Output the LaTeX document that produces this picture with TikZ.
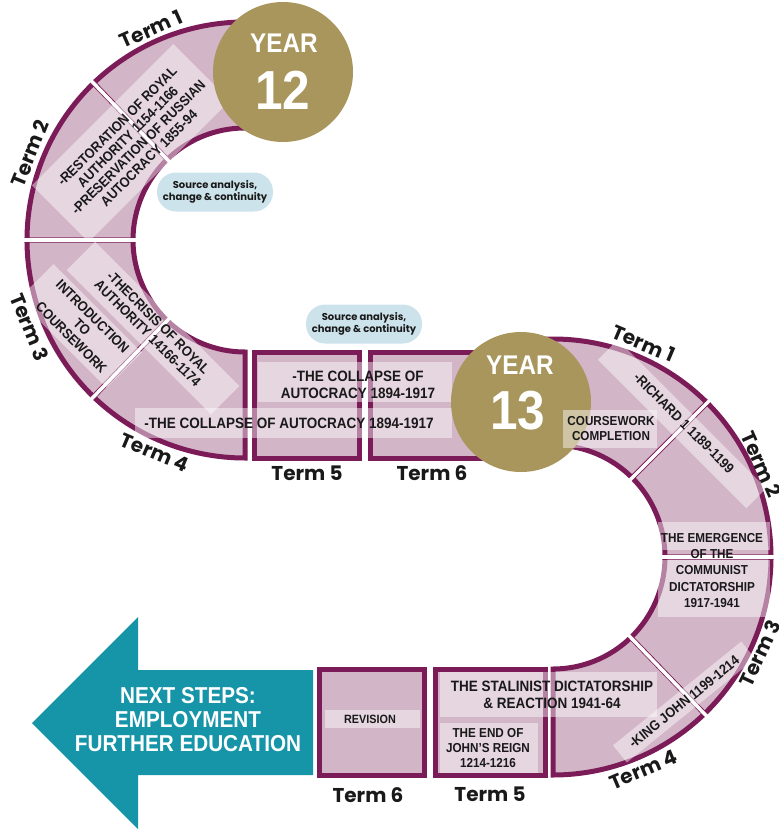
\documentclass[tikz,border=0pt]{standalone}
\usepackage{fontspec}
\setmainfont{Liberation Sans}
\newfontfamily\termfont{Poppins}
\newfontfamily\boxfont{Liberation Sans}[FakeStretch=0.9]
\usetikzlibrary{calc}
\definecolor{plum}{RGB}{123,28,88}
\definecolor{segfill}{RGB}{211,181,200}
\definecolor{gold}{RGB}{168,150,92}
\definecolor{arrowteal}{RGB}{22,148,168}
\definecolor{bubblecol}{RGB}{205,227,236}
\definecolor{ink}{RGB}{25,25,25}
\newcommand{\ringseg}[3]{%
  \draw[seg] ($(#1)+(#2:112)$) arc[start angle=#2, end angle=#3, radius=112]
    -- ($(#1)+(#3:218)$) arc[start angle=#3, end angle=#2, radius=218] -- cycle;}
\newcommand{\ringgap}[2]{%
  \draw[gapline] ($(#1)+(#2:104)$) -- ($(#1)+(#2:226)$);}
\begin{document}
\begin{tikzpicture}[x=1pt,y=-1pt,
  seg/.style={draw=plum, line width=5pt, fill=segfill, line join=miter},
  gapline/.style={draw=white, line width=3.5pt},
  ov/.style={fill=white, fill opacity=0.45, draw=none, inner sep=0pt},
  txt/.style={text=ink, align=center, inner sep=0pt, font=\boxfont\bfseries\fontsize{13}{15}\selectfont},
  term/.style={text=ink, inner sep=0pt, font=\termfont\bfseries\fontsize{20}{20}\selectfont},
  yr/.style={text=white, inner sep=0pt, font=\boxfont\bfseries\fontsize{27}{27}\selectfont},
  yrnum/.style={text=white, inner sep=0pt, font=\boxfont\bfseries\fontsize{55}{55}\selectfont},
  bubble/.style={fill=bubblecol, rounded corners=19pt, minimum width=116, minimum height=39, inner sep=0pt, align=center, text=ink, font=\termfont\bfseries\fontsize{10}{12}\selectfont},
  yearcirc/.style={circle, fill=gold, minimum size=140, inner sep=0pt}
]
\useasboundingbox (0,0) rectangle (779,830);
\coordinate (c12) at (245,240);
\coordinate (c13) at (553,557);
% ---- Year 12 ring
\ringseg{c12}{-80}{-134}
\ringseg{c12}{-134}{-180}
\ringseg{c12}{-180}{-226}
\ringseg{c12}{-226}{-270}
\ringgap{c12}{-134}
\ringgap{c12}{-180}
\ringgap{c12}{-226}
\draw[seg] (254.5,352) rectangle (359.5,458);
\draw[seg] (370.5,352) rectangle (490,458);
% ---- Year 13 ring
\ringseg{c13}{-100}{-45}
\ringseg{c13}{-45}{0}
\ringseg{c13}{0}{46}
\ringseg{c13}{46}{90}
\ringgap{c13}{-45}
\ringgap{c13}{0}
\ringgap{c13}{46}
\draw[seg] (435.5,669) rectangle (545.5,775);
\draw[seg] (319.5,669) rectangle (424.5,775);
% ---- overlays under the circles
\node[ov, rotate=45, minimum width=200, minimum height=80] (ovA) at (131,143) {};
\node[ov, rotate=-45, minimum width=204, minimum height=40] (ovB) at (153,328) {};
\node[ov, rotate=-45, minimum width=125, minimum height=50] (ovC) at (80,326) {};
\node[ov, minimum width=194, minimum height=40] (ovD) at (355,382) {};
\node[ov, minimum width=317, minimum height=30] (ovE) at (293.5,423) {};
% ---- circles
\node[yearcirc] (y12c) at (283,72) {};
\node[yearcirc] (y13c) at (521,402) {};
% ---- arrow
\fill[arrowteal] (32,723) -- (138,617) -- (138,670) -- (313,670) -- (313,775) -- (138,775) -- (138,829) -- cycle;
% ---- bubbles
\node[bubble] (src1) at (215,192) {Source analysis,\\change \& continuity};
\node[bubble] (src2) at (364,324) {Source analysis,\\change \& continuity};
% ---- overlays
\node[ov, minimum width=94, minimum height=38] (ovF) at (610,429) {};
\node[ov, rotate=-45, minimum width=210, minimum height=28] (ovG) at (682,424) {};
\node[ov, minimum width=112, minimum height=28] (ovH1) at (714,536) {};
\node[ov, minimum width=112, minimum height=57] (ovH2) at (714,588.5) {};
\node[ov, rotate=39, minimum width=165, minimum height=22] (ovI) at (684,702) {};
\node[ov, minimum width=217, minimum height=45] (ovJ) at (548.5,694.5) {};
\node[ov, minimum width=98, minimum height=50] (ovK) at (489,748) {};
\node[ov, minimum width=95, minimum height=18] (ovL) at (372.5,719) {};
% ---- texts
\node[txt, rotate=45, font=\boxfont\bfseries\fontsize{14}{15}\selectfont] (tA) at (133,142) {-RESTORATION OF ROYAL\\AUTHORITY 1154-1166\\-PRESERVATION OF RUSSIAN\\AUTOCRACY 1855-94};
\node[txt, rotate=-45, font=\boxfont\bfseries\fontsize{14}{15}\selectfont] (tB) at (153,328) {-THECRISIS OF ROYAL\\AUTHORITY 14166-1174};
\node[txt, rotate=-45, font=\boxfont\bfseries\fontsize{14}{15}\selectfont] (tC) at (82,327) {INTRODUCTION\\TO\\COURSEWORK};
\node[txt, font=\boxfont\bfseries\fontsize{15}{17}\selectfont] (tD) at (358,384.5) {-THE COLLAPSE OF\\AUTOCRACY 1894-1917};
\node[txt, font=\boxfont\bfseries\fontsize{15}{17}\selectfont] (tE) at (289,423) {-THE COLLAPSE OF AUTOCRACY 1894-1917};
\node[txt] (tF) at (611,429) {COURSEWORK\\COMPLETION};
\node[txt, rotate=-45, font=\boxfont\bfseries\fontsize{14}{15}\selectfont] (tG) at (684,423) {-RICHARD 1 1189-1199};
\node[txt, font=\boxfont\bfseries\fontsize{13}{16.2}\selectfont] (tH) at (712,570.5) {THE EMERGENCE\\OF THE\\COMMUNIST\\DICTATORSHIP\\1917-1941};
\node[txt, rotate=39, font=\boxfont\bfseries\fontsize{14}{15}\selectfont] (tI) at (684,702) {-KING JOHN 1199-1214};
\node[txt, font=\boxfont\bfseries\fontsize{15}{17}\selectfont] (tJ) at (552,694.5) {THE STALINIST DICTATORSHIP\\\& REACTION 1941-64};
\node[txt] (tK) at (488,748.5) {THE END OF\\JOHN’S REIGN\\1214-1216};
\node[txt, font=\boxfont\bfseries\fontsize{12}{14}\selectfont] (tL) at (370,719) {REVISION};
\node[txt, text=white, font=\boxfont\bfseries\fontsize{23}{24}\selectfont] (tArrow) at (188,720) {NEXT STEPS:\\EMPLOYMENT\\FURTHER EDUCATION};
% ---- year labels
\node[yr] (y12a) at (284,43) {YEAR};
\node[yrnum] (y12b) at (283,90) {12};
\node[yr] (y13a) at (520,365) {YEAR};
\node[yrnum] (y13b) at (518,411) {13};
% ---- term labels Year 12
\node[term, rotate=24] (t12a) at ($(c12)+(-114:231)$) {Term 1};
\node[term, rotate=68] (t12b) at ($(c12)+(-158:232)$) {Term 2};
\node[term, rotate=-68] (t12c) at ($(c12)+(-202:232)$) {Term 3};
\node[term, rotate=-23] (t12d) at ($(c12)+(-247:231)$) {Term 4};
\node[term] (t12e) at (307,473) {Term 5};
\node[term] (t12f) at (432,473) {Term 6};
% ---- term labels Year 13
\node[term, rotate=-23] (t13a) at ($(c13)+(-67:232)$) {Term 1};
\node[term, rotate=-66] (t13b) at ($(c13)+(-24:228)$) {Term 2};
\node[term, rotate=65] (t13c) at ($(c13)+(25:228)$) {Term 3};
\node[term, rotate=23] (t13d) at ($(c13)+(67:231)$) {Term 4};
\node[term] (t13e) at (490,794) {Term 5};
\node[term] (t13f) at (368,795) {Term 6};
\end{tikzpicture}
\end{document}
